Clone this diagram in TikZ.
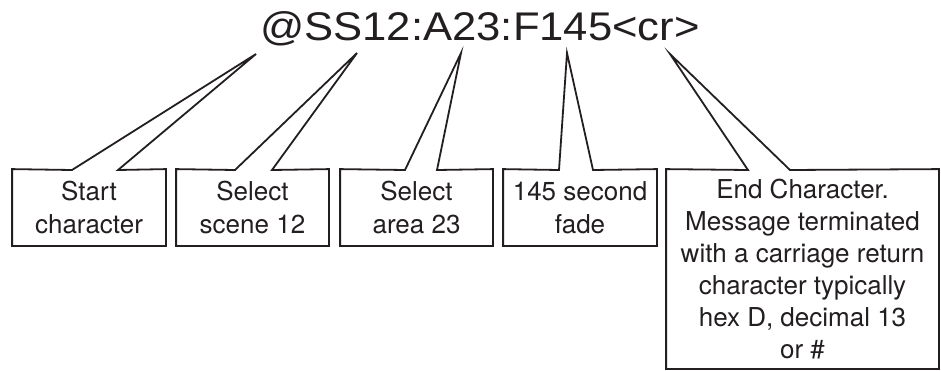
\documentclass[tikz,border=0pt]{standalone}
\usepackage{fontspec}
\setmainfont{TeX Gyre Heros}
\newfontfamily\titlefont[FakeStretch=1.09]{Liberation Sans}
\definecolor{ink}{HTML}{231F20}
\begin{document}
\begin{tikzpicture}[x=1pt,y=-1pt, line width=1.8pt, line join=miter,
  box/.style={inner sep=0pt, align=center, text=ink,
    font=\fontsize{26}{32.5}\selectfont},
  callout/.style={draw=ink}]
\useasboundingbox[fill=white] (0,0) rectangle (941,370);
\node[anchor=base, inner sep=0pt, text=ink, font=\titlefont\fontsize{40}{40}\selectfont] (title) at (480,40) {@SS12:A23:F145<cr>};
% boxes
\node[box, minimum width=152, minimum height=75] (b1) at (89,207.5) {Start\\character};
\node[box, minimum width=151, minimum height=75] (b2) at (252.5,207.5) {Select\\scene 12};
\node[box, minimum width=151, minimum height=75] (b3) at (416.5,207.5) {Select\\area 23};
\node[box, minimum width=152, minimum height=75] (b4) at (580,207.5) {145 second\\fade};
\node[box, minimum width=271, minimum height=198, font=\fontsize{26}{32}\selectfont] (b5) at (802.5,269) {End Character.\\Message terminated\\with a carriage return\\character typically\\hex D, decimal 13\\or \#};
% pointer tips under the message
\coordinate (t1) at (256,54);
\coordinate (t2) at (357,53);
\coordinate (t3) at (461,53);
\coordinate (t4) at (567,53);
\coordinate (t5) at (670,54);
% pointer bases
\coordinate (p1a) at (72,170);  \coordinate (p1b) at (118,170);
\coordinate (p2a) at (235,170); \coordinate (p2b) at (272,170);
\coordinate (p3a) at (405,170); \coordinate (p3b) at (437,170);
\coordinate (p4a) at (559,170); \coordinate (p4b) at (593,170);
\coordinate (p5a) at (748,170); \coordinate (p5b) at (790,170);
% callout outlines
\foreach \i in {1,...,5}{
  \draw[callout] (b\i.north west) -- (p\i a) -- (t\i) -- (p\i b) -- (b\i.north east)
    -- (b\i.south east) -- (b\i.south west) -- cycle;
}
\end{tikzpicture}
\end{document}
